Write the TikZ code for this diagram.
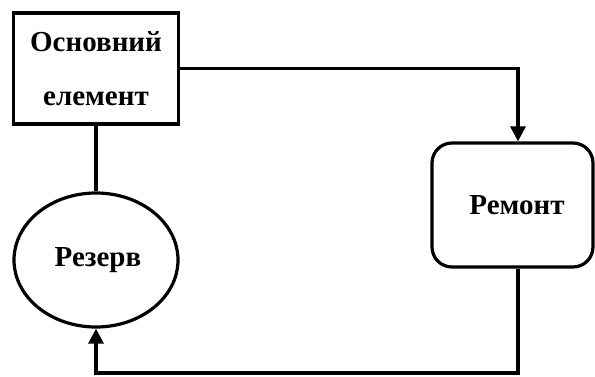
\documentclass[tikz,border=0pt]{standalone}
\usepackage{fontspec}
\setmainfont{Liberation Serif}
\usetikzlibrary{arrows.meta,shapes.geometric}
\begin{document}
\begin{tikzpicture}[x=1pt,y=-1pt,
  lbl/.style={font=\bfseries\fontsize{29}{54}\selectfont, align=center, inner sep=0pt},
  mainbox/.style={lbl, draw, line width=3.5pt, minimum width=165pt, minimum height=111pt},
  reserve/.style={lbl, draw, ellipse, line width=3.2pt, minimum width=164pt, minimum height=134pt},
  repair/.style={lbl, draw, rounded corners=20pt, line width=3.2pt, minimum width=161pt, minimum height=124pt},
  link/.style={line width=3.2pt},
  flow/.style={link, -{Triangle[width=15pt,length=15pt]}}
]
\useasboundingbox (0,0) rectangle (595,376);

\node[mainbox] (osn) at (96,68.5) {Основний\\елемент};
\node[reserve] (rez) at (96,260) {\hspace*{4pt}Резерв};
\node[repair]  (rem) at (512.5,205) {\hspace*{9pt}Ремонт};

\coordinate (corner) at (518,373);

\draw[link] (osn.south) -- (rez.north);
\draw[flow] (osn.east) -| ([xshift=5.5pt]rem.north);
\draw[flow] ([xshift=5.5pt]rem.south) -- (corner) -| (rez.south);
\end{tikzpicture}
\end{document}
